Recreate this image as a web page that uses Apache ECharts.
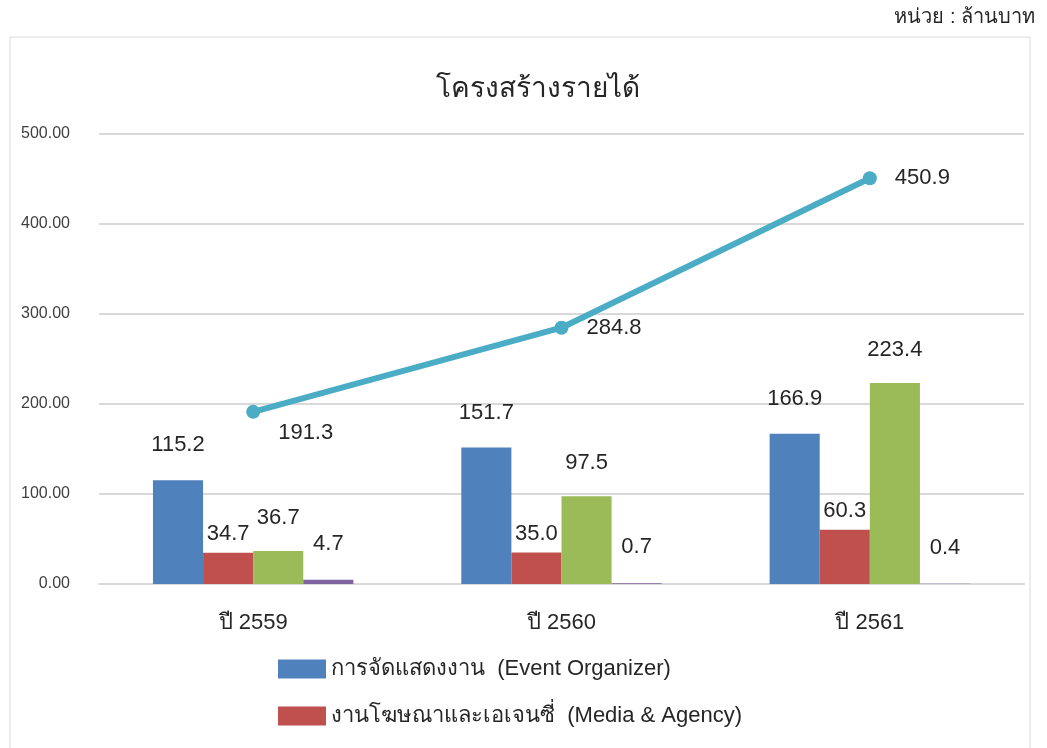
<!DOCTYPE html>
<html>
<head>
<meta charset="utf-8">
<script src="https://cdn.jsdelivr.net/npm/echarts@6/dist/echarts.min.js"></script>
<style>
  html, body { margin: 0; padding: 0; background: #ffffff; }
  #main { width: 1047px; height: 748px; }
</style>
</head>
<body>
<div id="main"></div>
<script>
  // ข้อมูล (ล้านบาท)
  const categories = ['ปี 2559', 'ปี 2560', 'ปี 2561'];
  const eventOrganizer = [115.2, 151.7, 166.9];
  const mediaAgency = [34.7, 35.0, 60.3];
  const digital = [36.7, 97.5, 223.4];
  const others = [4.7, 0.7, 0.4];
  const totals = [191.3, 284.8, 450.9];
  const seriesNames = [
    'การจัดแสดงงาน  (Event Organizer)',
    'งานโฆษณาและเอเจนซี่  (Media & Agency)',
    'ดิจิทัลมีเดีย  (Digital Media)',
    'อื่นๆ  (Others)',
    'รวม'
  ];

  const font = "'Liberation Sans', 'Noto Sans', 'DejaVu Sans', sans-serif";
  const textColor = '#262626';

  const chart = echarts.init(document.getElementById('main'));

  function barSeries(name, data, color, dist) {
    return {
      name: name,
      type: 'bar',
      data: data,
      barGap: '0%',
      barCategoryGap: '35%',
      itemStyle: { color: color },
      label: {
        show: true,
        position: 'top',
        distance: dist,
        fontFamily: font,
        fontSize: 22,
        color: textColor,
        formatter: p => p.value.toFixed(1)
      }
    };
  }

  chart.setOption({
    animation: false,
    graphic: [
      {
        type: 'rect',
        shape: { x: 10, y: 37, width: 1020, height: 720 },
        style: { fill: 'none', stroke: '#d9d9d9', lineWidth: 1 }
      },
      {
        type: 'text',
        right: 12,
        top: 7,
        style: { text: 'หน่วย : ล้านบาท', fontFamily: font, fontSize: 20, fill: textColor }
      }
    ],
    title: {
      text: 'โครงสร้างรายได้',
      left: 533,
      top: 70,
      textAlign: 'center',
      textStyle: { fontFamily: font, fontSize: 28, fontWeight: 'normal', color: textColor }
    },
    legend: {
      orient: 'vertical',
      left: 273,
      top: 653,
      height: 400,
      itemWidth: 48,
      itemHeight: 19,
      itemGap: 25,
      icon: 'rect',
      textStyle: { fontFamily: font, fontSize: 22, color: textColor },
      data: seriesNames
    },
    grid: { left: 99, right: 23, top: 134, bottom: 164, containLabel: false },
    xAxis: {
      type: 'category',
      data: categories,
      axisLine: { lineStyle: { color: '#d9d9d9', width: 2 } },
      axisTick: { show: false },
      axisLabel: { fontFamily: font, fontSize: 22, color: textColor, margin: 28 }
    },
    yAxis: {
      type: 'value',
      min: 0,
      max: 500,
      interval: 100,
      axisLine: { show: false },
      axisTick: { show: false },
      splitLine: { lineStyle: { color: '#d9d9d9', width: 2 } },
      axisLabel: {
        fontFamily: font,
        fontSize: 16,
        color: '#404040',
        margin: 29,
        formatter: v => v.toFixed(2)
      }
    },
    series: [
      barSeries(seriesNames[0], eventOrganizer, '#4F81BD', 24),
      barSeries(seriesNames[1], mediaAgency, '#C0504D', 8),
      barSeries(seriesNames[2], digital, '#9BBB59', 22),
      barSeries(seriesNames[3], others, '#8064A2', 25),
      {
        name: seriesNames[4],
        type: 'line',
        data: totals.map((v, i) => i === 0
          ? { value: v, label: { offset: [0, 21] } }
          : v),
        symbol: 'circle',
        symbolSize: 14,
        lineStyle: { color: '#4BACC6', width: 6 },
        itemStyle: { color: '#4BACC6' },
        label: {
          show: true,
          position: 'right',
          distance: 18,
          fontFamily: font,
          fontSize: 22,
          color: textColor,
          formatter: p => p.value.toFixed(1)
        },
        z: 5
      }
    ]
  });
</script>
</body>
</html>
